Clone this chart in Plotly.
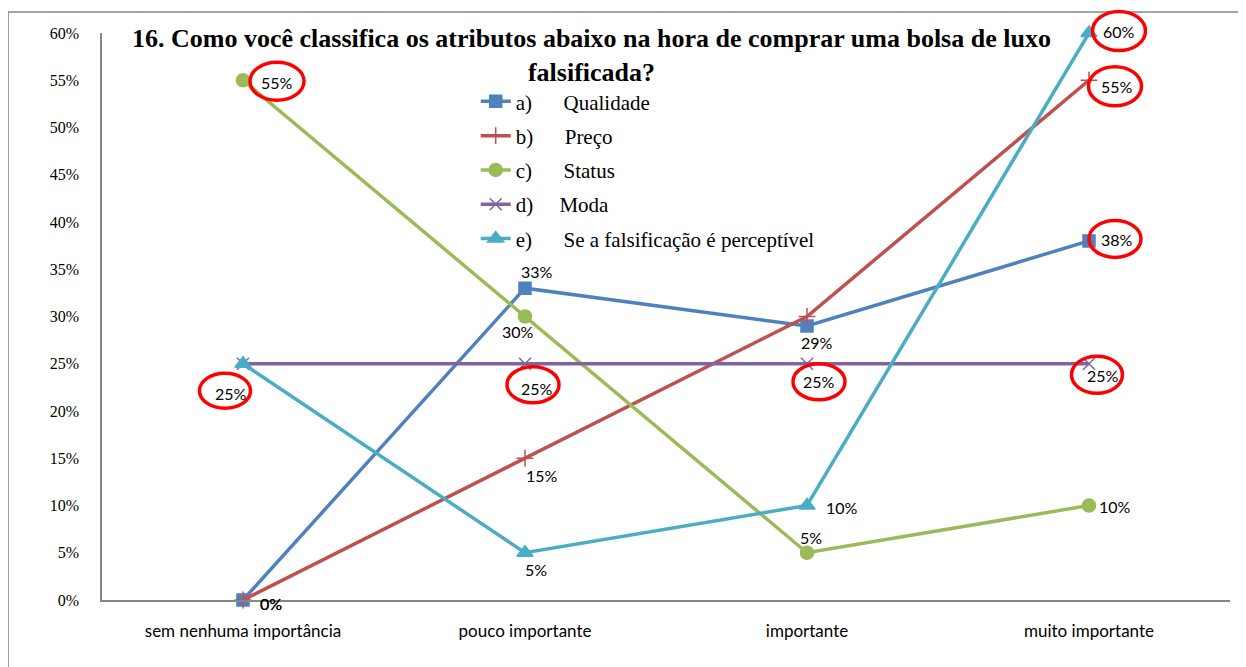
import plotly.graph_objects as go

categories = ["sem nenhuma importância", "pouco importante", "importante", "muito importante"]
series_names = [
    "a)\u00a0\u00a0\u00a0\u00a0\u00a0\u00a0Qualidade",
    "b)\u00a0\u00a0\u00a0\u00a0\u00a0\u00a0Preço",
    "c)\u00a0\u00a0\u00a0\u00a0\u00a0\u00a0Status",
    "d)\u00a0\u00a0\u00a0\u00a0\u00a0Moda",
    "e)\u00a0\u00a0\u00a0\u00a0\u00a0\u00a0Se a falsificação é perceptível",
]
qualidade = [0.00, 0.33, 0.29, 0.38]
preco = [0.00, 0.15, 0.30, 0.55]
status = [0.55, 0.30, 0.05, 0.10]
moda = [0.25, 0.25, 0.25, 0.25]
perceptivel = [0.25, 0.05, 0.10, 0.60]
y_ticks = [0, 0.05, 0.10, 0.15, 0.20, 0.25, 0.30, 0.35, 0.40, 0.45, 0.50, 0.55, 0.60]
title_text = "16. Como você classifica os atributos abaixo na hora de comprar uma bolsa de luxo<br>falsificada?"

series = [qualidade, preco, status, moda, perceptivel]
colors = ["#4F81BD", "#C0504D", "#9BBB59", "#8064A2", "#4BACC6"]
symbols = ["square", "cross-thin", "circle", "x-thin", "triangle-up"]
msizes = [12, 12, 13, 12, 14]

Y_MAX = 0.6
X_MIN, X_MAX = -0.5, 3.5

# label pixel offsets (dx right, dy down) per point; None = no label
label_offsets = [
    [(28, 3), (12, -17), (10, 17), (28, -1)],
    [(28, 3), (17, 17), None, (28, 6)],
    [(34, 2), (-7, 15), (4, -15), (26, 1)],
    [(-12, 30), (12, 25), (12, 18), (14, 12)],
    [None, (11, 17), (35, 2), (30, -2)],
]
# circled labels: (series index, point index, dx, dy, w, h)
circled = [
    (2, 0, 34, 1, 54, 38),
    (3, 0, -18, 27, 51, 35),
    (3, 1, 8, 21, 52, 36),
    (3, 2, 12, 18, 52, 36),
    (3, 3, 8, 11, 51, 37),
    (4, 3, 30, -2, 53, 39),
    (1, 3, 26, 6, 53, 39),
    (0, 3, 26, -2, 52, 37),
]

xs = list(range(len(categories)))
fig = go.Figure()
for k, vals in enumerate(series):
    fig.add_trace(go.Scatter(
        x=xs, y=vals, name=series_names[k], mode="lines+markers",
        legendgroup=str(k), cliponaxis=False,
        line=dict(color=colors[k], width=3.5),
        marker=dict(symbol=symbols[k], size=msizes[k], color=colors[k],
                    line=dict(color=colors[k], width=1.5)),
        hoverinfo="skip",
    ))

annotations = []
for k, vals in enumerate(series):
    for i, v in enumerate(vals):
        off = label_offsets[k][i]
        if off is None:
            continue
        annotations.append(dict(
            x=xs[i], y=v, xref="x", yref="y", text=f"{round(v*100)}%",
            showarrow=False, xshift=off[0], yshift=-off[1],
            font=dict(family="Lato, Noto Sans, sans-serif", size=16, color="#000000"),
        ))

annotations.append(dict(
    x=0.434, y=0.961, xref="paper", yref="paper", text="<b>" + title_text + "</b>",
    showarrow=False, xanchor="center", yanchor="middle", align="center",
    font=dict(family="Liberation Serif, serif", size=26, color="#000000"),
))

shapes = []
for (k, i, dx, dy, w, h) in circled:
    v = series[k][i]
    px = (xs[i] - X_MIN) / (X_MAX - X_MIN)
    py = v / Y_MAX
    shapes.append(dict(
        type="circle", xref="paper", yref="paper", xsizemode="pixel", ysizemode="pixel",
        xanchor=px, yanchor=py,
        x0=dx - w / 2, x1=dx + w / 2, y0=-dy - h / 2, y1=-dy + h / 2,
        line=dict(color="#FF0000", width=3.5), fillcolor="rgba(0,0,0,0)",
    ))
# outer chart border
shapes.append(dict(type="rect", xref="paper", yref="paper",
                   x0=-0.0833, x1=1.03, y0=-0.13, y1=1.037,
                   line=dict(color="#868686", width=1.5), fillcolor="rgba(0,0,0,0)", layer="below"))

fig.update_layout(
    width=1238, height=659,
    margin=dict(l=94, r=16, t=25, b=67),
    paper_bgcolor="white", plot_bgcolor="white",
    showlegend=True,
    legend=dict(x=0.3313, y=0.915, xanchor="left", yanchor="top",
                bgcolor="rgba(0,0,0,0)", tracegroupgap=4,
                font=dict(family="Liberation Serif, serif", size=21, color="#000000")),
    annotations=annotations, shapes=shapes,
    xaxis=dict(range=[X_MIN, X_MAX], tickvals=xs, ticktext=categories,
               showgrid=False, zeroline=False, showline=True, linecolor="#868686", linewidth=1.5,
               ticks="", ticklabelstandoff=15,
               tickfont=dict(family="Lato, Noto Sans, sans-serif", size=17, color="#000000")),
    yaxis=dict(range=[0, Y_MAX], tickvals=y_ticks, tickformat=".0%",
               showgrid=False, zeroline=False, showline=True, linecolor="#868686", linewidth=1.5,
               ticks="", ticklabelstandoff=18,
               tickfont=dict(family="Liberation Serif, serif", size=16, color="#000000")),
)

fig.write_html("out.html")
